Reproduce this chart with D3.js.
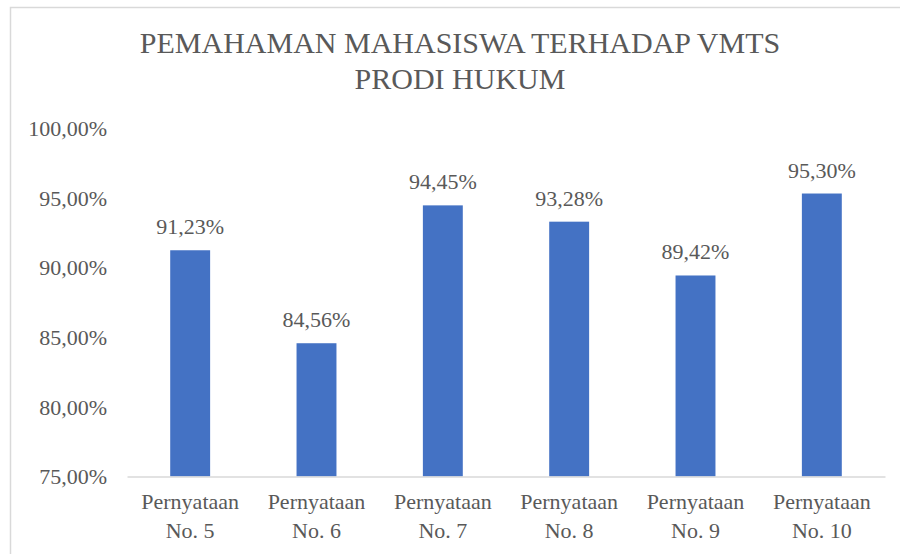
<!DOCTYPE html>
<html>
<head>
<meta charset="utf-8">
<script src="https://cdn.jsdelivr.net/npm/d3@7"></script>
<style>
  html, body { margin: 0; padding: 0; background: #fff; }
  svg { display: block; }
  svg text { font-family: "Liberation Serif", "Times New Roman", serif; fill: #595959; }
</style>
</head>
<body>
<svg id="chart" width="900" height="554"></svg>
<script>
const titleLines = ["PEMAHAMAN MAHASISWA TERHADAP VMTS", "PRODI HUKUM"];
const categories = [["Pernyataan", "No. 5"], ["Pernyataan", "No. 6"], ["Pernyataan", "No. 7"], ["Pernyataan", "No. 8"], ["Pernyataan", "No. 9"], ["Pernyataan", "No. 10"]];
const values = [91.23, 84.56, 94.45, 93.28, 89.42, 95.30];
const yTicks = [75, 80, 85, 90, 95, 100];

const svg = d3.select("#chart");
const font = "Liberation Serif";
const textColor = "#595959";

// chart border
svg.append("rect")
  .attr("x", 10.5).attr("y", 7.5).attr("width", 900).attr("height", 560)
  .attr("fill", "none").attr("stroke", "#d9d9d9").attr("stroke-width", 1.5);

const margin = { left: 127, right: 885, top: 128, bottom: 476.5 };

const x = d3.scaleBand()
  .domain(d3.range(categories.length))
  .range([margin.left, margin.right])
  .paddingInner(0.684)
  .paddingOuter(0.342);

const y = d3.scaleLinear().domain([75, 100]).range([margin.bottom, margin.top]);

// title
svg.append("text")
  .attr("x", 460).attr("y", 53)
  .attr("text-anchor", "middle")
  .style("font-family", font).style("font-size", "30px").style("fill", textColor)
  .selectAll("tspan").data(titleLines).join("tspan")
  .attr("x", 460).attr("dy", (d, i) => i === 0 ? 0 : 36)
  .text(d => d);

// y axis labels
const fmt = v => d3.format(".2f")(v).replace(".", ",") + "%";
const yAxis = d3.axisLeft(y).tickValues(yTicks).tickFormat(fmt).tickSize(0).tickPadding(20);
const yg = svg.append("g").attr("transform", `translate(${margin.left},0)`).call(yAxis);
yg.select(".domain").remove();
yg.selectAll("text")
  .style("font-family", font).style("font-size", "22px").style("fill", textColor)
  .attr("dy", "0.34em");

// bars
svg.append("g").selectAll("rect").data(values).join("rect")
  .attr("x", (d, i) => x(i))
  .attr("width", x.bandwidth())
  .attr("y", d => y(d))
  .attr("height", d => y(75) - y(d))
  .attr("fill", "#4472c4");

// baseline (x axis)
const xAxis = d3.axisBottom(x).tickSize(0).tickFormat("");
const xg = svg.append("g").attr("transform", `translate(0,${y(75)})`).call(xAxis);
xg.select(".domain").attr("stroke", "#d9d9d9").attr("stroke-width", 1.5);

// category labels
const catG = svg.append("g");
categories.forEach((lines, i) => {
  const cx = x(i) + x.bandwidth() / 2;
  catG.append("text")
    .attr("text-anchor", "middle")
    .style("font-family", font).style("font-size", "22px").style("fill", textColor)
    .selectAll("tspan").data(lines).join("tspan")
    .attr("x", cx)
    .attr("y", (d, j) => 509 + j * 28.5)
    .text(d => d);
});

// data labels
svg.append("g").selectAll("text").data(values).join("text")
  .attr("x", (d, i) => x(i) + x.bandwidth() / 2)
  .attr("y", d => y(d) - 16)
  .attr("text-anchor", "middle")
  .style("font-family", font).style("font-size", "22px").style("fill", textColor)
  .text(d => fmt(d));
</script>
</body>
</html>
